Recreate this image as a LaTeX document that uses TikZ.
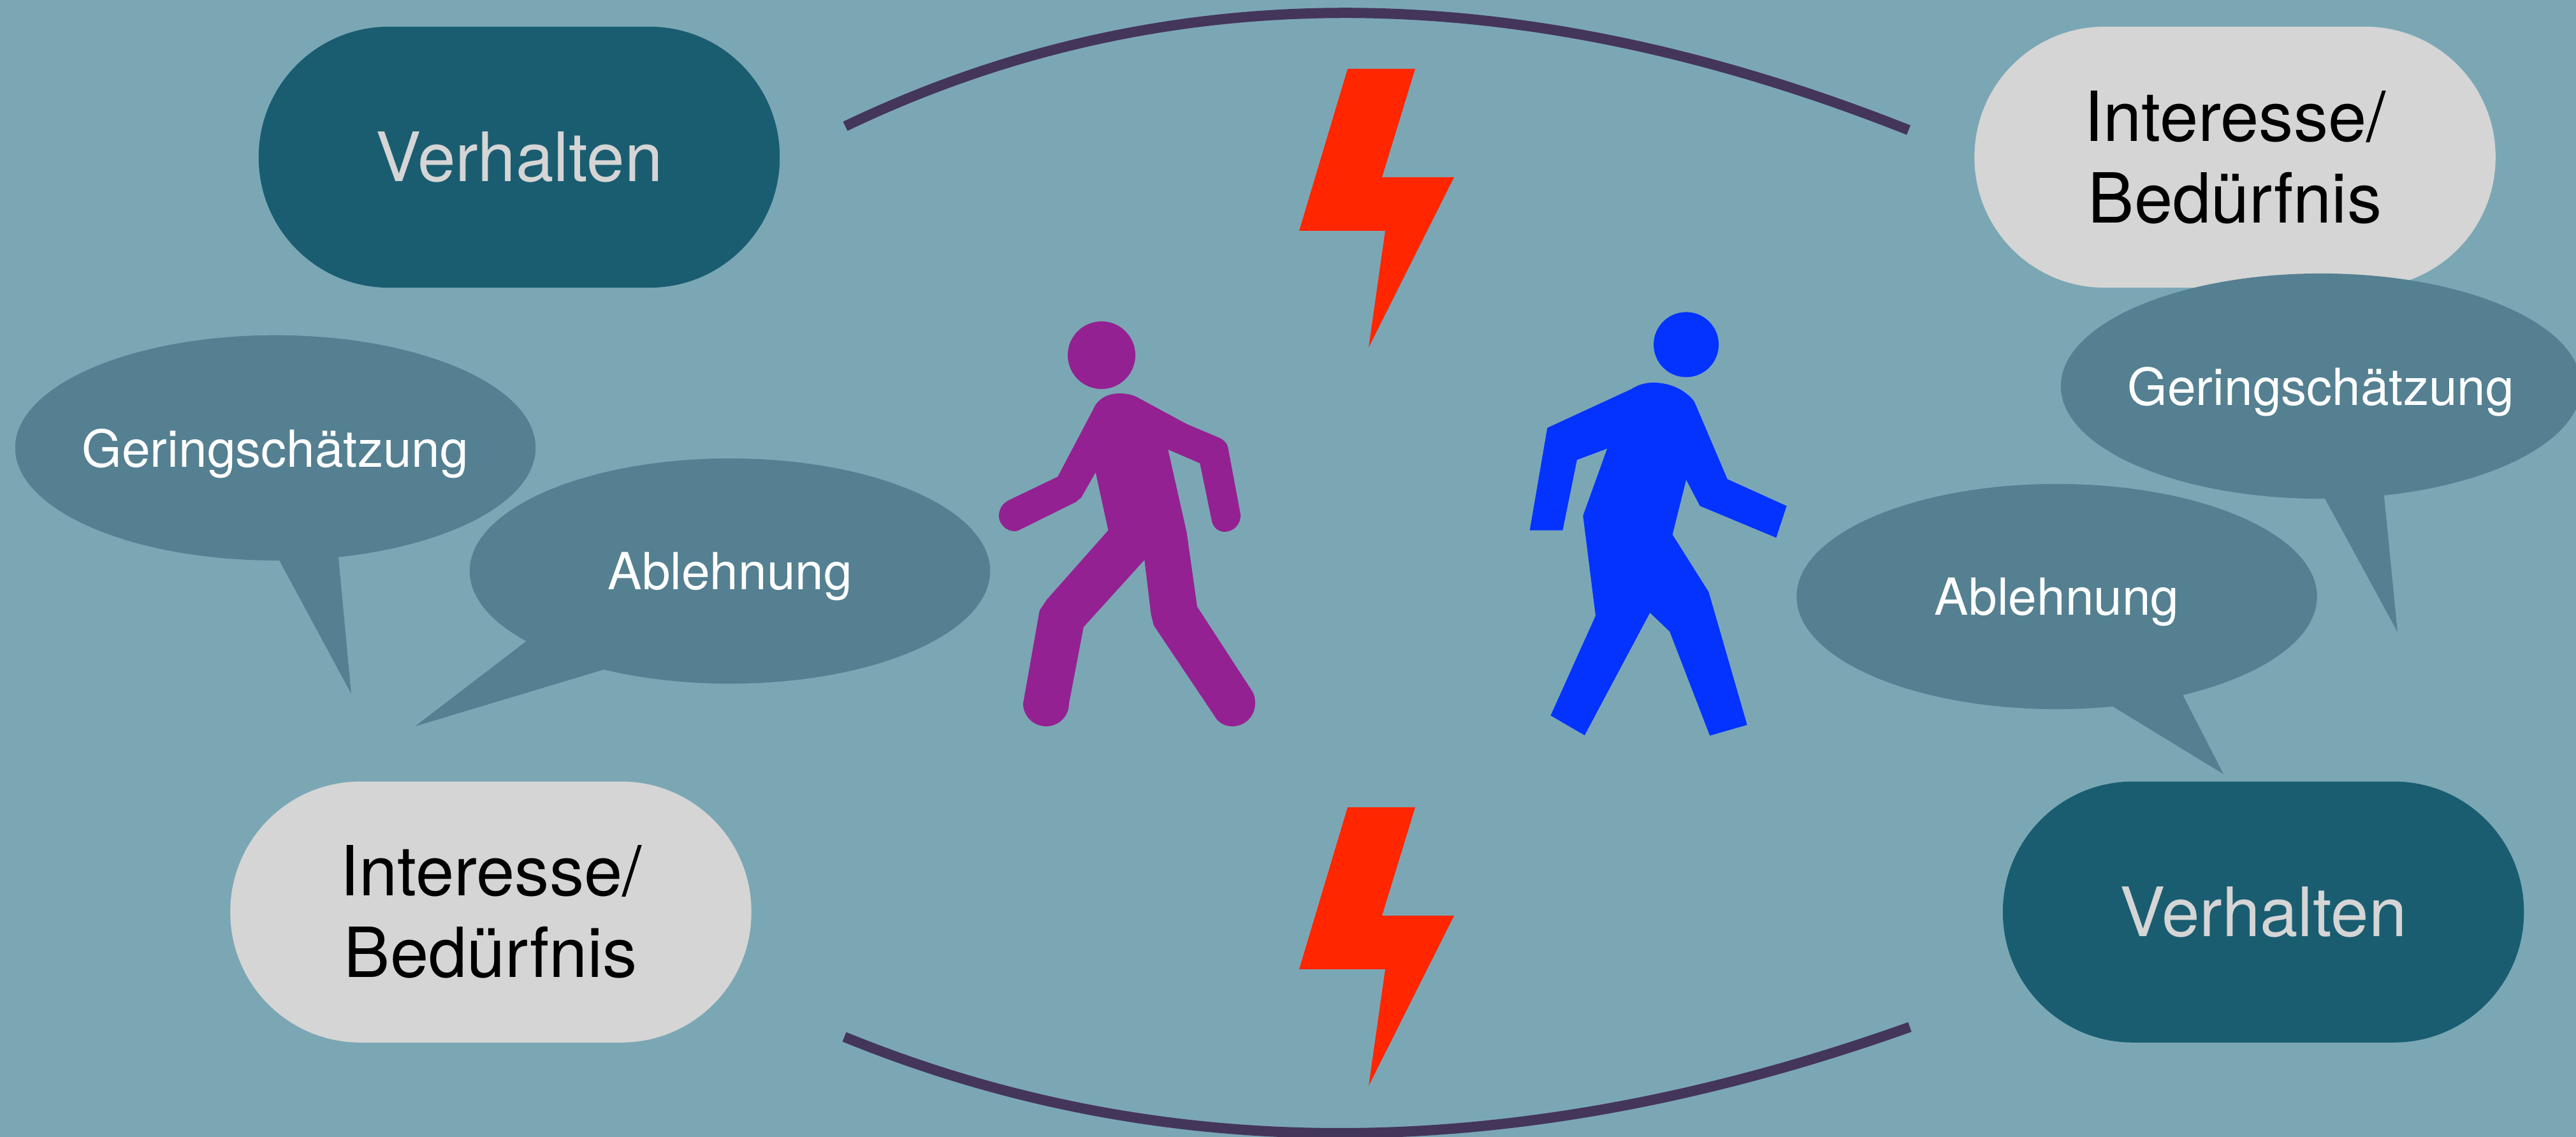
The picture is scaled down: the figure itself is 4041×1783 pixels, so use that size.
\documentclass[tikz,border=0pt]{standalone}
\usepackage{fontspec}
\setmainfont{TeX Gyre Heros}
\usetikzlibrary{positioning,shapes.geometric}
\definecolor{confbg}{HTML}{7BA7B5}
\definecolor{confdark}{HTML}{1A5D71}
\definecolor{conflight}{HTML}{D5D5D5}
\definecolor{confbubble}{HTML}{548091}
\definecolor{confarc}{HTML}{44355B}
\definecolor{confred}{HTML}{FF2600}
\definecolor{confpurple}{HTML}{942192}
\definecolor{confblue}{HTML}{0433FF}
\tikzset{
  pill/.style={rectangle,rounded corners=2.04cm,minimum width=8.17cm,minimum height=4.09cm,inner sep=0pt,outer sep=0pt,align=center,font=\fontsize{30.4}{36.4}\selectfont},
  pilldark/.style={pill,fill=confdark,text=conflight},
  pilllight/.style={pill,fill=conflight,text=black,font=\fontsize{30.8}{36.4}\selectfont},
  bubble/.style={ellipse,fill=confbubble,text=white,minimum width=8.16cm,minimum height=3.53cm,inner xsep=-1cm,inner ysep=0pt,outer sep=0pt,text depth=0pt,font=\fontsize{22.8}{27}\selectfont},
  tail/.style={fill=confbubble},
  arcline/.style={draw=confarc,line width=0.16cm},
  bolt/.style={fill=confred},
}
\begin{document}
\begin{tikzpicture}[x=0.01cm,y=-0.01cm]
    \fill[confbg] (0,0) rectangle (4041,1783);
    \useasboundingbox (0,0) rectangle (4041,1783);
    \node[pilldark] (vhltl) at (814.5,246.5) {Verhalten};
    \node[pilllight,right=18.73cm of vhltl] (inttr) {Interesse/\\Bedürfnis};
    \node[pilllight,below=7.74cm of vhltl,xshift=-0.445cm] (intbl) {Interesse/\\Bedürfnis};
    \node[pilldark,right=19.62cm of intbl] (vhlbr) {Verhalten};
    \node[bubble] (gerl) at (432,702.3) {Geringschätzung};
    \node[bubble] (abll) at (1145,895.5) {Ablehnung};
    \node[bubble] (gerr) at (3641,605.5) {Geringschätzung};
    \node[bubble] (ablr) at (3226.5,935.5) {Ablehnung};
    \coordinate (gerltip) at (551,1088);
    \coordinate (ablltip) at (651,1139);
    \coordinate (gerrtip) at (3761,991);
    \coordinate (ablrtip) at (3488,1214);
    \fill[tail] (gerl.-88.4)--(gerltip)--(gerl.-60.5)--cycle;
    \fill[tail] (abll.199.6)--(ablltip)--(abll.218.9)--cycle;
    \fill[tail] (gerr.-88.05)--(gerrtip)--(gerr.-60.1)--cycle;
    \fill[tail] (ablr.-63.4)--(ablrtip)--(ablr.-38)--cycle;
    \coordinate (arctl) at (1326,198);
    \coordinate (arctr) at (2994,204);
    \coordinate (arcbl) at (1324.5,1626);
    \coordinate (arcbr) at (2996,1610.5);
    \draw[arcline] (arctl) .. controls (1825,-41) and (2381,-39) .. (arctr);
    \draw[arcline] (arcbl) .. controls (1830.5,1832.5) and (2388,1827) .. (arcbr);
    \fill[bolt] (2114,108)--(2220,108)--(2168,278)--(2281,278)--(2147,545)--(2173,362)--(2038,362)--cycle;
    \fill[bolt] (2114,1266)--(2220,1266)--(2168,1436)--(2281,1436)--(2147,1703)--(2173,1520)--(2038,1520)--cycle;
    \fill[confpurple] (1728,557) circle (0.53cm);
    \fill[confpurple] (1715.3,641.3) .. controls (1722,625) and (1738,617) .. (1756,617) .. controls (1768,617) and (1776,619) .. (1784,623)
      --(1861.7,665)--(1913.3,686.8) .. controls (1920,690) and (1925,695) .. (1926.2,701)--(1946,806.3)
      .. controls (1947,822) and (1935,834) .. (1921,834) .. controls (1910,834) and (1902,826) .. (1900.4,814.5)
      --(1882.3,726.5)--(1832.3,704.9)--(1861.6,835)--(1878,951.3)--(1965,1085)
      .. controls (1968,1090) and (1969,1097) .. (1969,1103) .. controls (1969,1123) and (1953,1139) .. (1933,1139) .. controls (1920,1139) and (1910,1132) .. (1904.7,1122)
      --(1810,980.9)--(1805.7,964.2)--(1795.3,878.1)--(1699.8,983.3)--(1677,1103)
      .. controls (1677,1123) and (1661,1139) .. (1641,1139) .. controls (1621,1139) and (1605,1123) .. (1605,1103)
      --(1630.9,957)--(1642.1,940.3)--(1738.5,831.7)--(1718.7,740.8)--(1696.3,780)--(1687.7,787.2)--(1599,831.2)
      .. controls (1585,838) and (1567,825) .. (1567,809) .. controls (1567,797) and (1574,789) .. (1581.8,784.8)
      --(1659.3,747.5)--cycle;
    \fill[confblue] (2645.1,540.4) circle (0.51cm);
    \fill[confblue] (2559,610.2) .. controls (2570,603) and (2582,600) .. (2593.5,600) .. controls (2620,600) and (2645,612) .. (2658,630)
      --(2709.7,751.3)--(2802.7,793.4)--(2786.3,843.2)--(2666.7,793.4)--(2645.1,752.3)--(2623.6,838.4)--(2680.4,928.3)
      --(2740.7,1136.8)--(2682.2,1153.6)--(2619.3,990.5)--(2588.3,960.8)--(2485.8,1153.1)--(2432.5,1122)--(2503,965.6)
      --(2483.3,808.7)--(2521.2,703.5)--(2473.8,721.2)--(2451.4,831.7)--(2399.7,831.7)--(2427.3,671)--cycle;
\end{tikzpicture}
\end{document}
